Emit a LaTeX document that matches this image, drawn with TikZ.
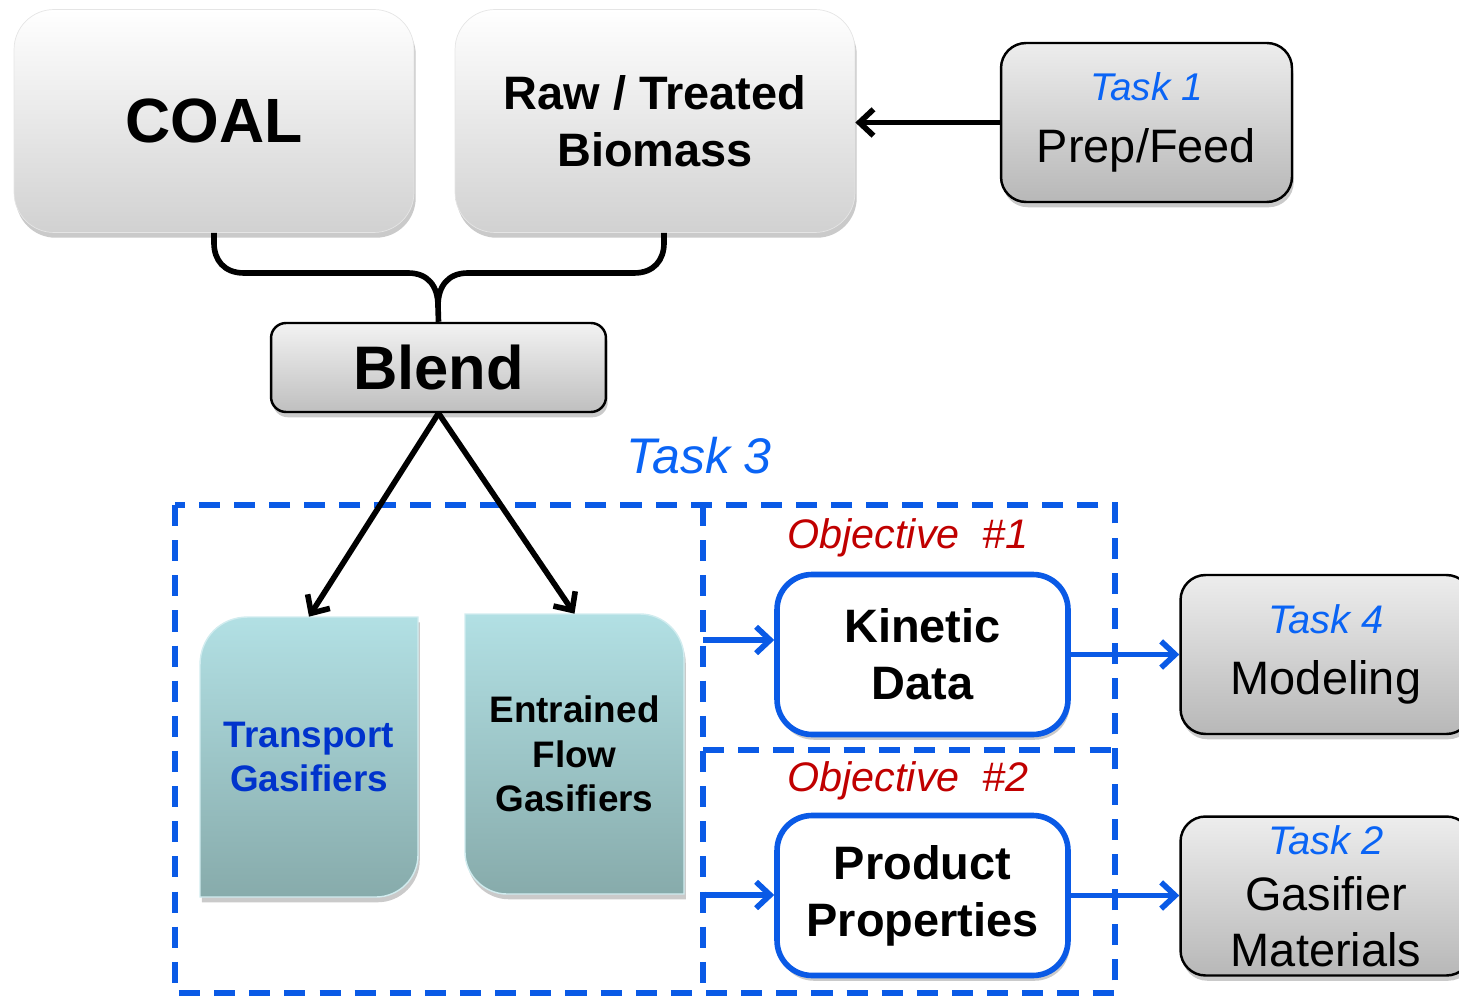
\documentclass[tikz,border=0pt]{standalone}
\usepackage{fontspec}
\setmainfont{Liberation Sans}
\usetikzlibrary{arrows.meta,shadows,calc}
\definecolor{taskblue}{HTML}{0A64F5}
\definecolor{dashblue}{HTML}{0A5AE6}
\definecolor{objred}{HTML}{C00000}
\definecolor{tgblue}{HTML}{0033CC}
\definecolor{tealtop}{HTML}{B2E0E4}
\definecolor{tealbot}{HTML}{87ABAB}
\newcommand\setfs[2]{\fontsize{#1}{#2}\selectfont}
\begin{document}
\begin{tikzpicture}[x=0.02cm,y=-0.02cm,
  softshadow/.style={drop shadow={shadow xshift=1pt,shadow yshift=-3pt,opacity=0.35,fill=black!60}},
  bigbox/.style={rounded corners=0.8cm, top color=white, bottom color=black!18, draw=black!10, line width=0.4pt,
     minimum width=8cm, minimum height=4.46cm, align=center, softshadow, font=\bfseries\setfs{26.7}{32.3}},
  taskbox/.style={rounded corners=0.5cm, top color=black!7, bottom color=black!28, draw=black, line width=1.4pt,
     minimum width=5.82cm, minimum height=3.18cm, align=center, softshadow, font=\setfs{26.7}{32.3}},
  objbox/.style={rounded corners=0.7cm, fill=white, draw=dashblue, line width=3.2pt,
     minimum width=5.82cm, minimum height=3.2cm, align=center, softshadow, font=\bfseries\setfs{26.7}{32.3}},
  tealbox/.style={top color=tealtop, bottom color=tealbot, draw=tealtop!60!white, line width=0.8pt, softshadow},
  gastext/.style={minimum width=4.36cm, minimum height=5.6cm, align=center, font=\bfseries\setfs{21}{25.5}},
  conn/.style={line width=3.2pt, draw=black},
  blackarrow/.style={line width=3.2pt, draw=black, -{Straight Barb[length=8pt,width=15pt]}},
  bluearrow/.style={line width=3.2pt, draw=dashblue, -{Straight Barb[length=8pt,width=15pt]}},
  dashframe/.style={line width=3pt, draw=dashblue, dash pattern=on 12pt off 8pt}
]
\useasboundingbox (0,0) rectangle (1459,996);
\clip (0,0) rectangle (1459,996);

% top row
\node[bigbox, font=\bfseries\setfs{35.6}{40}] (coal) at (214,121) {COAL};
\node[bigbox] (bio) at (655,121) {Raw / Treated\\Biomass};
\node[taskbox] (t1) at (1146.5,122.5) {{\color{taskblue}\itshape\setfs{22}{27}Task 1}\\[3pt]Prep/Feed};

\node[rounded corners=0.3cm, top color=black!5, bottom color=black!25, draw=black, line width=1.4pt,
      minimum width=6.7cm, minimum height=1.78cm, softshadow, font=\bfseries\setfs{35}{40}] (blend) at (438.5,367.5) {Blend};

% task 1 arrow
\draw[blackarrow] (t1.west) -- (t1.west -| bio.east);

% brace connector
\draw[conn] (coal.south) -- (214,243) .. controls (214,260) and (224,273) .. (244,273)
   -- (408,273) .. controls (428,273) and (438,286) .. (438,306) -- (blend.north);
\draw[conn] ($(bio.south)+(9,0)$) -- (664,243) .. controls (664,260) and (654,273) .. (634,273)
   -- (468,273) .. controls (448,273) and (438,286) .. (438,306);

% Task 3 label and frames
\node[text=taskblue, font=\itshape\setfs{28.5}{34}] (t3) at (699,456) {Task 3};
\draw[dashframe] (175,505) rectangle (1115,993);
\draw[dashframe] (703,505) -- (703,993);
\draw[dashframe] (703,750) -- (1115,750);

% gasifier boxes
\shade[tealbox] (200,897) -- (200,665) .. controls (200,638) and (220,617) .. (248,617) -- (418,617) -- (418,855)
   .. controls (418,878) and (399,897) .. (376,897) -- cycle;
\node[gastext, text=tgblue] (tg) at (309,757) {Transport\\Gasifiers};
\shade[tealbox] (465,614) -- (640,614) .. controls (664,614) and (684,634) .. (684,658) -- (684,894) -- (507,894)
   .. controls (484,894) and (465,875) .. (465,852) -- cycle;
\node[gastext] (ef) at (574.5,754) {Entrained\\Flow\\Gasifiers};

\draw[blackarrow] (blend.south) -- (tg.north);
\draw[blackarrow] (blend.south) -- (ef.north);

% objectives
\node[text=objred, font=\itshape\setfs{23.5}{28}] (o1) at (908,538) {Objective\ \ \#1};
\node[text=objred, font=\itshape\setfs{23.5}{28}] (o2) at (908,781) {Objective\ \ \#2};
\node[objbox] (kd) at (922.5,654.5) {Kinetic\\Data};
\node[objbox] (pp) at (922.5,895.5) {Product\\Properties};

% tasks 4 and 2
\node[taskbox] (t4) at (1326,654.5) {{\color{taskblue}\itshape\setfs{22.7}{27}Task 4}\\[2pt]Modeling};
\node[taskbox, font=\setfs{26.7}{32}] (t2) at (1326,896) {{\color{taskblue}\itshape\setfs{22.7}{26}Task 2}\\Gasifier\\Materials};

% blue arrows
\coordinate (in1) at (703,640);
\coordinate (in2) at (703,895);
\draw[bluearrow] (in1) -- (in1 -| kd.west);
\draw[bluearrow] (in2) -- (in2 -| pp.west);
\draw[bluearrow] (kd.east) -- (kd.east -| t4.west);
\draw[bluearrow] (pp.east) -- (pp.east -| t2.west);
\end{tikzpicture}
\end{document}
